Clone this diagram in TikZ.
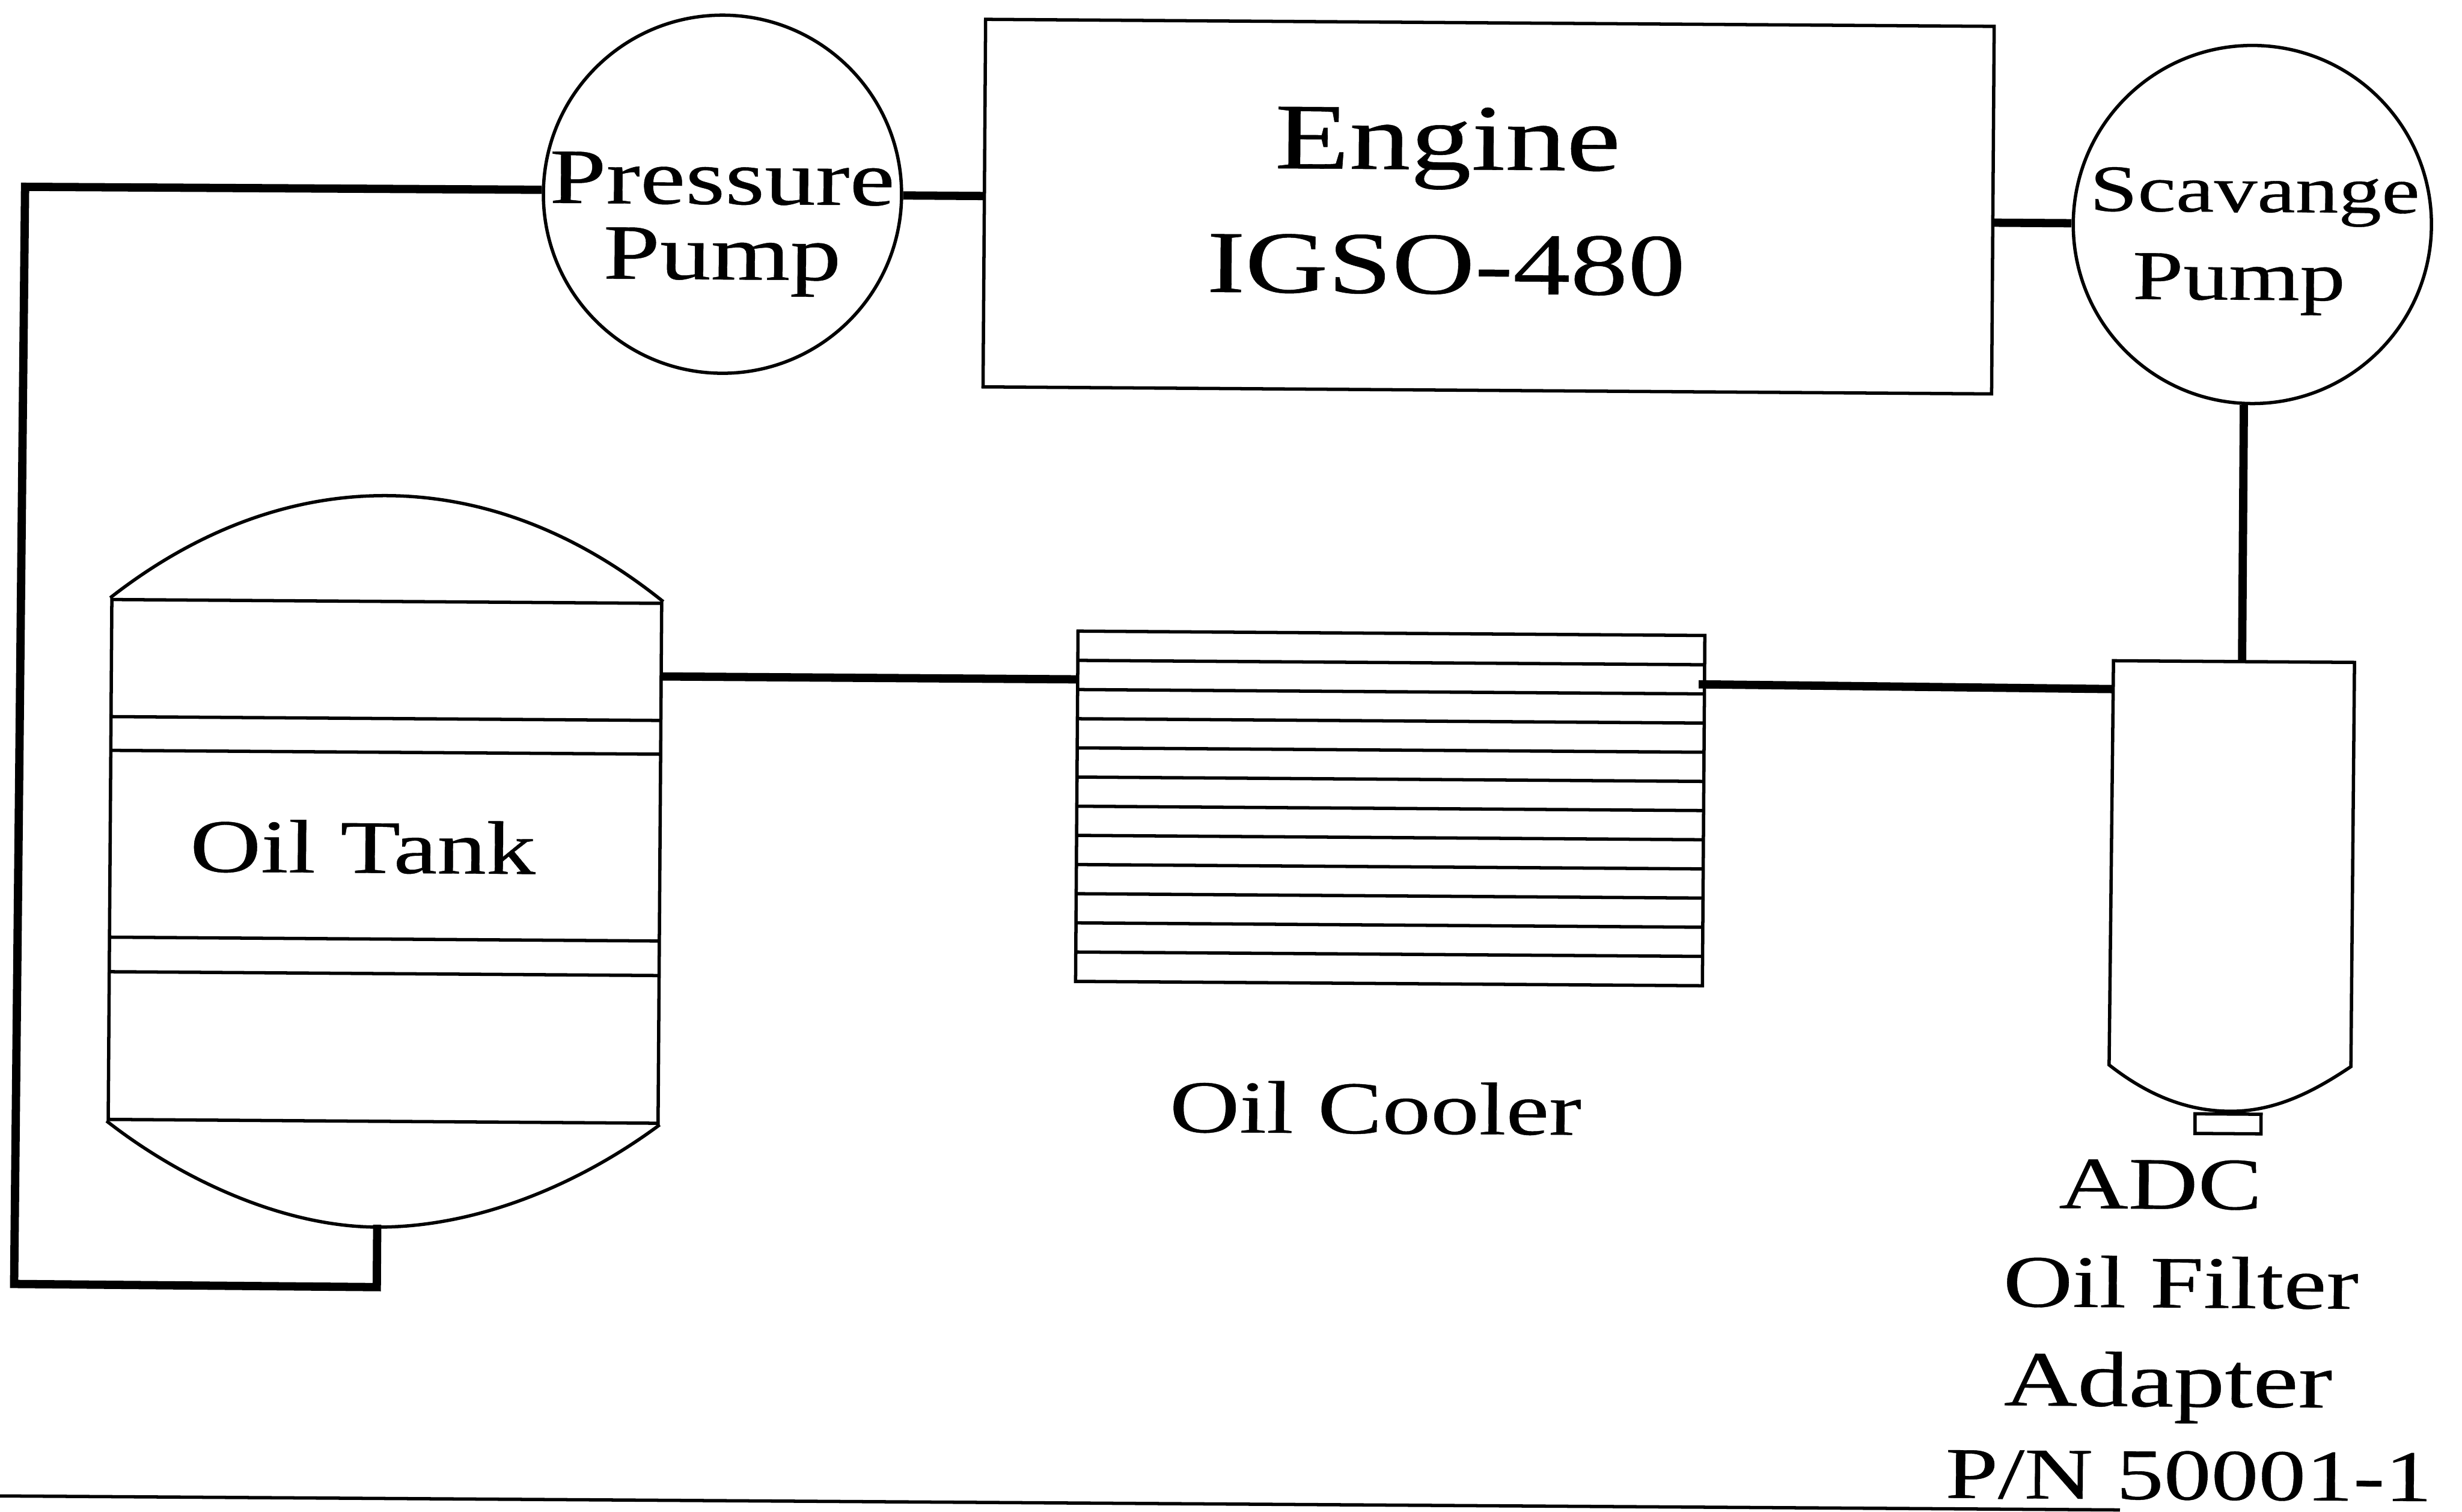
\documentclass[tikz,border=0pt]{standalone}
\usepackage{fontspec}
\setmainfont[FakeStretch=1.3,FakeBold=0.35]{Liberation Serif}
\usepackage{tikz}
\tikzstyle{pump} = [draw, circle, line width=0.6pt, inner sep=0pt, minimum size=2.28cm]
\tikzstyle{box} = [draw, rectangle, line width=0.6pt, inner sep=0pt]
\tikzstyle{pipe} = [line width=1.5pt, line join=miter]
\tikzstyle{thin line} = [line width=0.6pt]
\tikzstyle{label} = [anchor=base, inner sep=0pt]
\newcommand{\sized}[1]{\fontsize{#1}{#1}\selectfont}

\begin{document}
\begin{tikzpicture}[x=0.01cm, y=-0.01cm]
  \useasboundingbox (0,0) rectangle (1568,963);
  \begin{scope}[rotate=-0.4, transform shape]
  % Place nodes
  \node [box, minimum width=6.42cm, minimum height=2.34cm] (engine) at (949,125) {};
  \node [pump] (pressure) at (461,120.5) {};
  \node [pump] (scavange) at (1435.5,133) {};
  \node [box, minimum width=3.5cm, minimum height=3.31cm] (tank) at (249,547) {};
  \node [box, minimum width=3.99cm, minimum height=2.23cm] (cooler) at (889,508.8) {};

  % Tank ends and bands
  \draw [thin line] (tank.north west) .. controls (130,335) and (190,314) .. (249,314)
    .. controls (308,314) and (368,335) .. (tank.north east);
  \draw [thin line] (tank.south west) .. controls (120,750) and (185,780) .. (245,780)
    .. controls (305,780) and (370,755) .. (tank.south east);
  \foreach \y in {456,477.5,596.5,618.5}
    \draw [thin line] (74,\y) -- (424,\y);

  % Cooler fins
  \foreach \i in {1,...,11}
    \draw [thin line] (689.5,397.3+18.58*\i) -- (1088.5,397.3+18.58*\i);

  % Filter
  \draw [thin line] (1349,411.5) -- (1502.5,411.5) -- (1502,669)
    .. controls (1480,684) and (1455,698) .. (1425,698)
    .. controls (1395,698) and (1370,686) .. (1348,669) -- cycle;
  \node [box] (nub) at (1424,706) [minimum width=0.42cm, minimum height=0.125cm] {};

  % Pipe ends
  \coordinate (ctop) at (16.8,118.9);
  \coordinate (cbot) at (14.7,817.9);
  \coordinate (tbot) at (245.7,818.3);
  \coordinate (tout) at (245.7,778.5);
  \coordinate (tankout) at (424,428);
  \coordinate (coolerin) at (689.5,428);
  \coordinate (coolerout) at (1085,428.4);
  \coordinate (filterin) at (1349,429.6);
  \coordinate (filtertop) at (1431,411.5);

  % Connectors
  \draw [pipe] (pressure.179) -- (ctop) -- (cbot) -- (tbot) -- (tout);
  \draw [pipe] (pressure.east) -- (engine.west |- pressure.east);
  \draw [pipe] (engine.east |- scavange.west) -- (scavange.west);
  \draw [pipe] (scavange.south -| filtertop) -- (filtertop);
  \draw [pipe] (tankout) -- (coolerin);
  \draw [pipe] (coolerout) -- (filterin);

  % Labels
  \node [label, font=\sized{17}] (t1) at (922.7,101.5) {Engine};
  \node [label, font=\sized{16}] (t2) at (922.2,180.6) {IGSO-480};
  \node [label, font=\sized{14.2}] (t3) at (460.8,126.8) {Pressure};
  \node [label, font=\sized{14.2}] (t4) at (461.1,174.8) {Pump};
  \node [label, font=\sized{12}] (t5) at (1436.9,125) {Scavange};
  \node [label, font=\sized{12.7}] (t6) at (1427.2,181) {Pump};
  \node [label, font=\sized{13.7}] (t7) at (234.8,554.4) {Oil Tank};
  \node [label, font=\sized{13.5}] (t8) at (881,715.9) {Oil Cooler};
  \node [label, font=\sized{13.4}] (t9) at (1381.3,760.4) {ADC};
  \node [label, font=\sized{13.4}] (t10) at (1394.7,823.3) {Oil Filter};
  \node [label, font=\sized{14.2}] (t11) at (1387,886.3) {Adapter};
  \node [label, font=\sized{13.2}] (t12) at (1400.6,945.5) {P/N 50001-1};

  % Bottom rule
  \coordinate (rulea) at (0,953);
  \coordinate (ruleb) at (1357,952.5);
  \draw [thin line] (rulea) -- (ruleb);
  \end{scope}
\end{tikzpicture}
\end{document}
